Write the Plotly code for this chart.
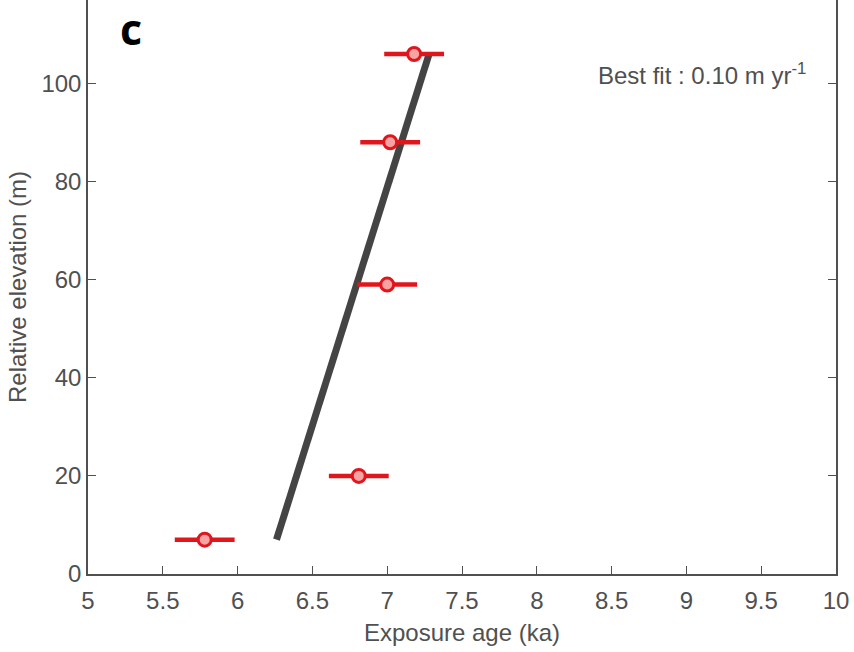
import plotly.graph_objects as go

# Exposure ages (ka), uncertainties (ka) and relative elevations (m)
age_ka = [7.18, 7.02, 7.00, 6.81, 5.78]
age_err = [0.20, 0.20, 0.20, 0.20, 0.20]
elev_m = [106, 88, 59, 20, 7]

# Best-fit line end points
fit_age = [6.26, 7.28]
fit_elev = [7, 106]

x_ticks = [5, 5.5, 6, 6.5, 7, 7.5, 8, 8.5, 9, 9.5, 10]
y_ticks = [0, 20, 40, 60, 80, 100]

grey = "#505050"
font = "Liberation Sans, Arial, sans-serif"

fig = go.Figure()
fig.add_trace(go.Scatter(
    x=fit_age, y=fit_elev, mode="lines",
    line=dict(color="#444444", width=7), showlegend=False,
))
fig.add_trace(go.Scatter(
    x=age_ka, y=elev_m, mode="markers",
    error_x=dict(type="data", array=age_err, color="#e0161c", thickness=4.5, width=0),
    marker=dict(size=13, color="#f5a3a3", line=dict(color="#e0161c", width=3)),
    showlegend=False,
))

fig.add_annotation(
    x=0.9626, y=102, xref="paper", yref="y", xanchor="right", yanchor="middle",
    text="Best fit : 0.10 m yr<sup>-1</sup>", showarrow=False,
    font=dict(family=font, size=24, color=grey),
)
fig.add_annotation(
    x=0.04, y=0.951, xref="paper", yref="paper", xanchor="left", yanchor="middle",
    text="<b>c</b>", showarrow=False,
    font=dict(family="Open Sans, sans-serif", size=43, color="black"),
)

fig.update_layout(
    width=854, height=652,
    margin=dict(l=88, r=18, t=0, b=78),
    plot_bgcolor="white", paper_bgcolor="white",
    font=dict(family=font, size=24, color=grey),
)
fig.update_xaxes(
    range=[5, 10], tickvals=x_ticks, ticktext=[f"{v:g}" for v in x_ticks],
    ticks="inside", ticklen=8, tickcolor=grey, showline=True, linecolor=grey,
    linewidth=1.5, showgrid=False, zeroline=False, ticklabelstandoff=4,
    title=dict(text="Exposure age (ka)", font=dict(size=24, color=grey), standoff=12),
)
fig.update_yaxes(
    range=[0, 117], tickvals=y_ticks, ticks="inside", ticklen=8, tickcolor=grey,
    showline=True, mirror="ticks", linecolor=grey, linewidth=1.5,
    showgrid=False, zeroline=False,
    title=dict(text="Relative elevation (m)", font=dict(size=24, color=grey), standoff=8),
)

fig.write_html("out.html")
